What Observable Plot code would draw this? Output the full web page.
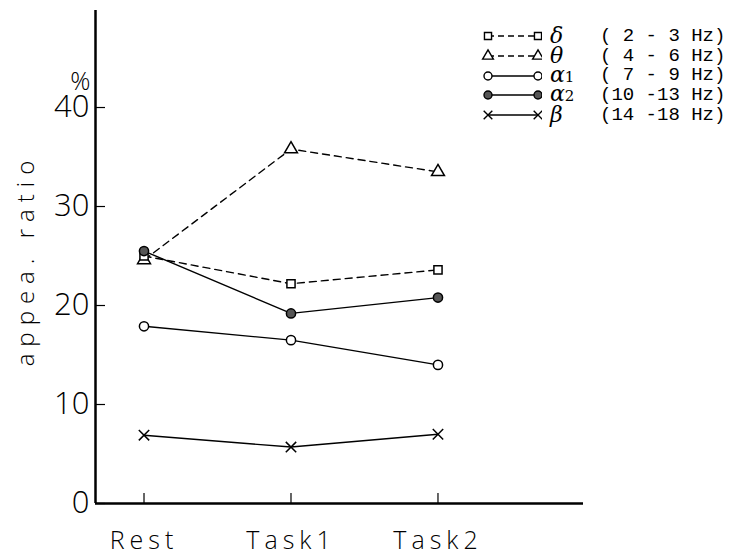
<!DOCTYPE html>
<html><head><meta charset="utf-8">
<script src="https://cdn.jsdelivr.net/npm/d3@7"></script>
<script src="https://cdn.jsdelivr.net/npm/@observablehq/plot@0.6"></script>
<style>
body{margin:0;background:#fff;}
#wrap{position:relative;width:736px;height:557px;overflow:hidden;}
#wrap svg.plot{position:absolute;left:0;top:0;}
[aria-label="x-axis tick label"] text{letter-spacing:5px;}
#ylab{position:absolute;left:24px;top:260px;transform:translate(-50%,-50%) rotate(-90deg);
  white-space:nowrap;font-family:"Open Sans",sans-serif;font-weight:300;font-size:24px;letter-spacing:7px;}
#legend{position:absolute;left:480px;top:26px;font-family:"Liberation Mono",monospace;font-size:19px;color:#000;}
.lrow{display:flex;align-items:center;height:19.8px;}
.greek{width:50px;font-family:"DejaVu Serif",serif;font-style:italic;font-size:22px;padding-left:8px;line-height:18px;}
.greek span.sb{font-style:normal;font-size:15px;}
.rng{white-space:pre;line-height:18px;}
</style></head><body><div id="wrap"></div>
<script>
// ---- data ----
const conditions = ["Rest", "Task1", "Task2"];
const delta  = [25.0, 22.2, 23.6];
const theta  = [24.6, 35.8, 33.5];
const alpha1 = [17.9, 16.5, 14.0];
const alpha2 = [25.5, 19.2, 20.8];
const beta   = [6.9, 5.7, 7.0];
const yTicks = [0, 10, 20, 30, 40];
const bandGreek = ["δ", "θ", "α", "α", "β"];
const bandSub = ["", "", "1", "2", ""];
const bandRanges = ["( 2 - 3 Hz)", "( 4 - 6 Hz)", "( 7 - 9 Hz)", "(10 -13 Hz)", "(14 -18 Hz)"];
const yLabel = "appea. ratio";
const yUnit = "%";

// ---- styles per series ----
const series = [
  {values: delta,  symbol: "square",   dash: "7,5", fill: "white", r: 4.6},
  {values: theta,  symbol: "triangle", dash: "7,5", fill: "white", r: 4.8},
  {values: alpha1, symbol: "circle",   dash: null,  fill: "white", r: 4.6},
  {values: alpha2, symbol: "circle",   dash: null,  fill: "#555",  r: 4.6},
  {values: beta,   symbol: "times",    dash: null,  fill: "none",  r: 4.8}
];
const rowsOf = s => s.values.map((v, i) => ({i, v}));

const marks = [];
series.forEach(s => {
  marks.push(Plot.line(rowsOf(s), {x: "i", y: "v", stroke: "black", strokeWidth: 1.4,
    strokeDasharray: s.dash || undefined}));
});
[4, 2, 1, 0, 3].forEach(k => {
  const s = series[k];
  marks.push(Plot.dot(rowsOf(s), {x: "i", y: "v", symbol: s.symbol, r: s.r,
    fill: s.symbol === "times" ? undefined : s.fill, stroke: "black", strokeWidth: 1.5}));
});

const W = 736, H = 557, mL = 95, mR = 153, mT = 10, mB = 54;
const tickLen = 10;
const xDomain = [-0.33, 2.99];
const chart = Plot.plot({
  width: W, height: H,
  marginLeft: mL, marginRight: mR, marginTop: mT, marginBottom: mB,
  style: {fontFamily: "'Open Sans', sans-serif", background: "white", color: "black"},
  x: {type: "linear", domain: xDomain},
  y: {domain: [0, 49.8]},
  marks: [
    Plot.axisX(d3.range(conditions.length), {tickFormat: i => conditions[i], tickSize: 0,
      tickPadding: 28, fontSize: 25, fontWeight: 300, label: null}),
    Plot.axisY(yTicks, {tickSize: 0, tickPadding: 6, fontSize: 31, fontWeight: 300, label: null}),
    Plot.ruleX(d3.range(conditions.length), {stroke: "black", strokeWidth: 1.2,
      insetTop: H - mT - mB - tickLen}),
    Plot.ruleY(yTicks, {stroke: "black", strokeWidth: 1.2, insetRight: W - mL - mR - tickLen}),
    Plot.ruleY([0], {stroke: "black", strokeWidth: 2.5}),
    Plot.ruleX([xDomain[0]], {stroke: "black", strokeWidth: 2.5}),
    Plot.text([yUnit], {frameAnchor: "top-left", dx: -5, dy: 62, fontSize: 25,
      fontWeight: 300, textAnchor: "end"}),
    ...marks
  ]
});
chart.classList.add("plot");
const wrap = document.getElementById("wrap");
wrap.appendChild(chart);
d3.select(wrap).append("div").attr("id", "ylab").text(yLabel);

// ---- legend ----
const legend = d3.select(wrap).append("div").attr("id", "legend");
series.forEach((s, k) => {
  const row = legend.append("div").attr("class", "lrow");
  const svg = row.append("svg").attr("width", 62).attr("height", 20);
  svg.append("line").attr("x1", 8).attr("x2", 58).attr("y1", 10).attr("y2", 10)
    .attr("stroke", "black").attr("stroke-width", 1.3)
    .attr("stroke-dasharray", s.dash ? "6,4" : null);
  const sym = s.symbol === "times" ? d3.symbolTimes : s.symbol === "square" ? d3.symbolSquare
    : s.symbol === "triangle" ? d3.symbolTriangle : d3.symbolCircle;
  [8, 58].forEach(cx => {
    svg.append("path").attr("d", d3.symbol(sym, Math.PI * 4 * 4)())
      .attr("transform", `translate(${cx},10)`)
      .attr("fill", s.symbol === "times" ? "none" : s.fill)
      .attr("stroke", "black").attr("stroke-width", 1.4);
  });
  const g = row.append("span").attr("class", "greek").text(bandGreek[k]);
  if (bandSub[k]) g.append("span").attr("class", "sb").text(bandSub[k]);
  row.append("span").attr("class", "rng").text(bandRanges[k]);
});
</script>
</body></html>
